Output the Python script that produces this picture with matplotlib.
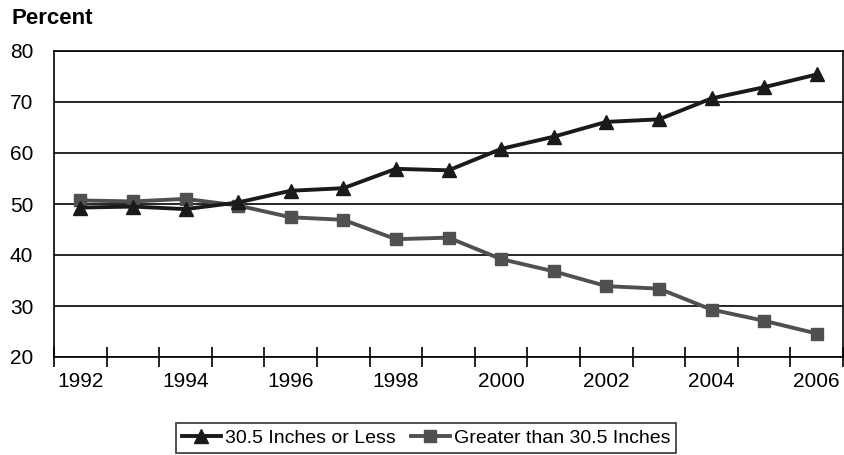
import matplotlib
matplotlib.use("Agg")
import matplotlib.pyplot as plt
import numpy as np

years = [1992, 1993, 1994, 1995, 1996, 1997, 1998, 1999, 2000, 2001, 2002, 2003, 2004, 2005, 2006]
less_or_equal = [49.3, 49.5, 49.0, 50.3, 52.6, 53.1, 56.9, 56.6, 60.8, 63.2, 66.1, 66.6, 70.7, 72.9, 75.4]
greater = [50.7, 50.5, 51.0, 49.7, 47.4, 46.9, 43.1, 43.4, 39.2, 36.8, 33.9, 33.4, 29.3, 27.1, 24.6]
series_names = ["30.5 Inches or Less", "Greater than 30.5 Inches"]
y_ticks = [20, 30, 40, 50, 60, 70, 80]

plt.rcParams['font.family'] = ['Liberation Sans', 'DejaVu Sans']

fig = plt.figure(figsize=(8.45, 4.55), dpi=100)
ax = fig.add_axes([54/845, 1-357/455, (843-54)/845, (357-51)/455])

x = np.arange(len(years))
ax.plot(x, less_or_equal, color='#1a1a1a', lw=2.8, marker='^', ms=9.5,
        label=series_names[0], zorder=4)
ax.plot(x, greater, color='#505050', lw=2.8, marker='s', ms=8.5,
        label=series_names[1], zorder=3)

ax.set_xlim(-0.5, len(years) - 0.5)
ax.set_ylim(20, 80)
ax.set_yticks(y_ticks)
ax.tick_params(axis='y', length=0, labelsize=15, pad=15)
ax.yaxis.grid(True, color='black', lw=1.2)
ax.set_axisbelow(True)

ax.set_xticks(x[::2])
ax.set_xticklabels([str(y) for y in years[::2]])
ax.set_xticks(np.arange(-0.5, len(years) + 0.5, 1.0), minor=True)
ax.tick_params(axis='x', which='major', length=0, labelsize=15, pad=11)
ax.tick_params(axis='x', which='minor', direction='inout', length=15, width=1.2)

for s in ax.spines.values():
    s.set_color('black')
    s.set_linewidth(1.2)

fig.text(12/845, 1-19/455, "Percent", fontsize=16, fontweight='bold', va='center', ha='left')

leg = fig.legend(loc='center', bbox_to_anchor=(426/845, 1-438/455), ncol=2,
                 fontsize=14, frameon=True, fancybox=False, edgecolor='black',
                 handlelength=2.0, handletextpad=0.2, columnspacing=0.8,
                 borderpad=0.3)
leg.get_frame().set_linewidth(1.2)

fig.savefig("out.png", dpi=100)
